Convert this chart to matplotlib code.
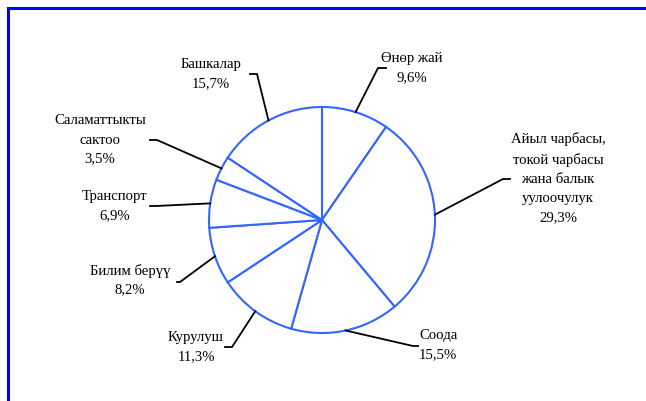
"""
Pie chart of sector shares (Kyrgyz labels), white wedges with blue outlines
and black elbow leader lines to the labels.
"""
import numpy as np
import matplotlib.pyplot as plt

# -------- DATA --------
sectors = ['Өнөр жай', 'Айыл чарбасы,\nтокой чарбасы\nжана балык\nуулоочулук', 'Соода',
           'Курулуш', 'Билим берүү', 'Транспорт', 'Саламаттыкты\nсактоо', 'Башкалар']
shares = [9.6, 29.3, 15.5, 11.3, 8.2, 6.9, 3.5, 15.7]
# -------- DATA. --------

# -------- LAYOUT (pixels, top-down) --------
W, H = 646, 401
pieCenter = (322, 220)
pieRadius = 113
# text block centre, elbow of leader, end of short horizontal tick
labelPos = [(412, 68), (558, 178), (438, 345), (196, 347), (130, 280), (115, 206), (100, 140), (211, 74)]
elbowPos = [(378, 68), (503, 179), (413, 346), (232, 347), (180, 282), (156, 206), (157, 140), (257, 74)]
tickEnd = [(386, 68), (510, 179), (418, 346), (225, 347), (177, 282), (150, 206), (150, 140), (250, 74)]
# -------- LAYOUT. --------

plt.rcParams['font.family'] = ['Liberation Serif', 'DejaVu Serif']

fig = plt.figure(figsize=(W / 100, H / 100), dpi=100)
ax = fig.add_axes([0, 0, 1, 1])

wedges, _ = ax.pie(shares, center=(pieCenter[0], H - pieCenter[1]), radius=pieRadius,
                   startangle=90, counterclock=False,
                   wedgeprops=dict(facecolor='white', edgecolor='#3366FF', linewidth=1.5))

ax.set_xlim(0, W)
ax.set_ylim(0, H)
ax.set_aspect('auto')
ax.axis('off')

# ---- Labels and leader lines
for w, name, val, tp, ep, te in zip(wedges, sectors, shares, labelPos, elbowPos, tickEnd):
    mid = np.deg2rad((w.theta1 + w.theta2) / 2)
    x0 = w.center[0] + w.r * np.cos(mid)
    y0 = w.center[1] + w.r * np.sin(mid)
    ax.plot([x0, ep[0], te[0]], [y0, H - ep[1], H - te[1]], color='black', linewidth=1.3,
            solid_joinstyle='miter')
    label = name + '\n' + ('%.1f' % val).replace('.', ',') + '%'
    ax.text(tp[0], H - tp[1], label, ha='center', va='center', multialignment='center',
            fontsize=10.6, linespacing=1.6)

# ---- Blue frame (top and left edges only visible)
ax.plot([8.3, W], [H - 8, H - 8], color='#0000FF', linewidth=2.2, solid_capstyle='projecting')
ax.plot([8.3, 8.3], [0, H - 8], color='#0000FF', linewidth=2.2, solid_capstyle='butt')

plt.savefig('out.png', dpi=100)
